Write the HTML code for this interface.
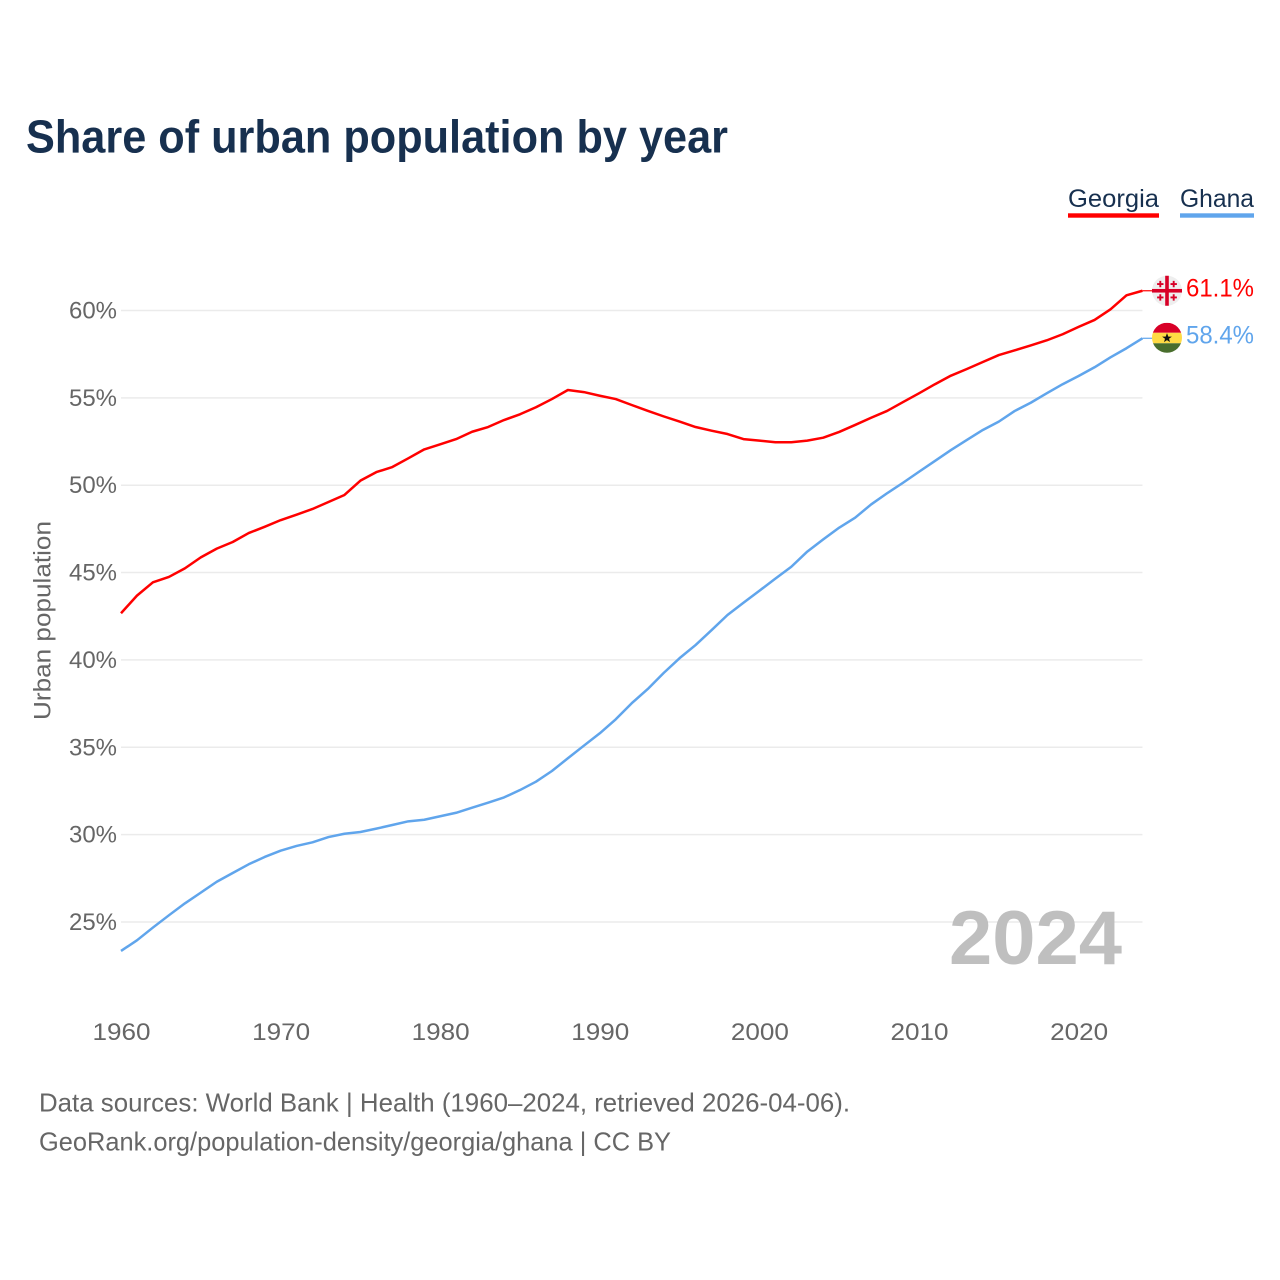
<!DOCTYPE html>
<html lang="en">
<head>
<meta charset="utf-8">
<title>Share of urban population by year</title>
<style>
html,body{margin:0;padding:0;background:#fff}
svg{display:block}
text{font-family:"Liberation Sans",sans-serif}
</style>
</head>
<body>
<svg id="chart" xmlns="http://www.w3.org/2000/svg" width="1280" height="1280" viewBox="0 0 1280 1280">
  <rect x="0" y="0" width="1280" height="1280" fill="#ffffff"/>
  <text x="26" y="152.5" font-size="46" font-weight="700" fill="#17304f" textLength="702" lengthAdjust="spacingAndGlyphs">Share of urban population by year</text>

  <g>
    <text x="1068" y="207" font-size="25" fill="#17304f" textLength="91" lengthAdjust="spacingAndGlyphs">Georgia</text>
    <rect x="1068" y="213.3" width="91" height="4.4" fill="#ff0000"/>
  </g>
  <g>
    <text x="1180" y="207" font-size="25" fill="#17304f" textLength="74" lengthAdjust="spacingAndGlyphs">Ghana</text>
    <rect x="1180" y="213.3" width="74" height="4.4" fill="#60a5ec"/>
  </g>

  <g id="grid"></g>
  <g id="yaxis"></g>
  <g id="xaxis"></g>

  <text transform="translate(50.5,720) rotate(-90)" x="0" y="0" font-size="24" fill="#666666" textLength="199" lengthAdjust="spacingAndGlyphs">Urban population</text>

  <text x="949" y="964" font-size="76" font-weight="700" fill="#bfbfbf" textLength="173" lengthAdjust="spacingAndGlyphs">2024</text>

  <g id="series"></g>

  <g id="flag-georgia">
    <circle cx="0" cy="0" r="15" fill="#eeeeee"/>
    <rect x="-1.8" y="-15" width="3.6" height="30" fill="#d80027"/>
    <rect x="-15" y="-1.8" width="30" height="3.6" fill="#d80027"/>
    <path d="M-6.7 -9.9v6.4M-9.9 -6.7h6.4M6.7 -9.9v6.4M3.5 -6.7h6.4M-6.7 3.5v6.4M-9.9 6.7h6.4M6.7 3.5v6.4M3.5 6.7h6.4" stroke="#d80027" stroke-width="1.9" fill="none"/>
  </g>
  <g id="flag-ghana">
    <clipPath id="ghana-clip"><circle cx="0" cy="0" r="15"/></clipPath>
    <g clip-path="url(#ghana-clip)">
      <rect x="-15" y="-15" width="30" height="10" fill="#d80027"/>
      <rect x="-15" y="-5" width="30" height="10.5" fill="#ffda44"/>
      <rect x="-15" y="5.5" width="30" height="10" fill="#496e2d"/>
      <path d="M0 -4.6L1.3 -1.2L4.9 -1.2L2 1L3 4.4L0 2.4L-3 4.4L-2 1L-4.9 -1.2L-1.3 -1.2Z" fill="#111111"/>
    </g>
  </g>

  <g>
    <text x="39" y="1111.5" font-size="26" fill="#666666" textLength="811" lengthAdjust="spacingAndGlyphs">Data sources: World Bank | Health (1960–2024, retrieved 2026-04-06).</text>
    <text x="39" y="1150.5" font-size="26" fill="#666666" textLength="632" lengthAdjust="spacingAndGlyphs">GeoRank.org/population-density/georgia/ghana | CC BY</text>
  </g>
</svg>
<script>
const years = [1960,1961,1962,1963,1964,1965,1966,1967,1968,1969,1970,1971,1972,1973,1974,1975,1976,1977,1978,1979,1980,1981,1982,1983,1984,1985,1986,1987,1988,1989,1990,1991,1992,1993,1994,1995,1996,1997,1998,1999,2000,2001,2002,2003,2004,2005,2006,2007,2008,2009,2010,2011,2012,2013,2014,2015,2016,2017,2018,2019,2020,2021,2022,2023,2024];
const georgiaValues = [42.67,43.68,44.44,44.75,45.24,45.87,46.37,46.75,47.26,47.62,48.0,48.31,48.64,49.04,49.44,50.26,50.75,51.04,51.54,52.05,52.34,52.64,53.06,53.33,53.73,54.06,54.46,54.93,55.45,55.33,55.12,54.93,54.59,54.26,53.94,53.64,53.33,53.12,52.93,52.64,52.55,52.46,52.46,52.55,52.72,53.05,53.45,53.86,54.25,54.76,55.26,55.78,56.27,56.65,57.05,57.45,57.72,58.0,58.29,58.64,59.06,59.46,60.07,60.87,61.13];
const ghanaValues = [23.34,23.95,24.68,25.38,26.06,26.68,27.3,27.8,28.3,28.72,29.08,29.35,29.56,29.86,30.05,30.15,30.34,30.55,30.76,30.85,31.05,31.25,31.54,31.83,32.13,32.55,33.03,33.64,34.37,35.09,35.8,36.6,37.52,38.33,39.25,40.1,40.85,41.7,42.57,43.27,43.96,44.65,45.33,46.2,46.9,47.57,48.14,48.9,49.54,50.14,50.77,51.39,52.01,52.59,53.16,53.64,54.25,54.72,55.26,55.78,56.25,56.75,57.32,57.84,58.41];
const yTickValues = [25,30,35,40,45,50,55,60];
const xTickValues = [1960,1970,1980,1990,2000,2010,2020];

const NS = 'http://www.w3.org/2000/svg';
const xScale = function (year) { return 121 + (year - 1960) * 15.96; };
const yScale = function (value) { return 310.5 + (60 - value) * 17.47; };

const gridGroup = document.getElementById('grid');
const yAxisGroup = document.getElementById('yaxis');
const xAxisGroup = document.getElementById('xaxis');
const seriesGroup = document.getElementById('series');
const rightEdge = xScale(years[years.length - 1]);

yTickValues.forEach(function (tick) {
  const line = document.createElementNS(NS, 'line');
  
  
  line.setAttribute('x1', xScale(1960));
  line.setAttribute('x2', rightEdge);
  line.setAttribute('y1', yScale(tick));
  line.setAttribute('y2', yScale(tick));
  line.setAttribute('stroke', '#ebebeb');
  line.setAttribute('stroke-width', '1.5');
  gridGroup.appendChild(line);

  const label = document.createElementNS(NS, 'text');
  
  
  label.setAttribute('x', 69);
  label.setAttribute('y', yScale(tick) + 8);
  label.setAttribute('font-size', '24');
  label.setAttribute('fill', '#666666');
  label.setAttribute('textLength', '48');
  label.setAttribute('lengthAdjust', 'spacingAndGlyphs');
  label.textContent = tick + '%';
  yAxisGroup.appendChild(label);
});

xTickValues.forEach(function (tick) {
  const label = document.createElementNS(NS, 'text');
  
  
  label.setAttribute('x', xScale(tick) - 28.5);
  label.setAttribute('y', 1040);
  label.setAttribute('font-size', '24');
  label.setAttribute('fill', '#666666');
  label.setAttribute('textLength', '58');
  label.setAttribute('lengthAdjust', 'spacingAndGlyphs');
  label.textContent = tick;
  xAxisGroup.appendChild(label);
});

function linePoints(values) {
  return values.map(function (value, i) {
    return xScale(years[i]).toFixed(2) + ',' + yScale(value).toFixed(2);
  }).join(' ');
}

const georgiaLine = document.createElementNS(NS, 'polyline');


georgiaLine.setAttribute('points', linePoints(georgiaValues));
georgiaLine.setAttribute('fill', 'none');
georgiaLine.setAttribute('stroke', '#ff0000');
georgiaLine.setAttribute('stroke-width', '2.5');
georgiaLine.setAttribute('stroke-linejoin', 'round');
seriesGroup.appendChild(georgiaLine);

const ghanaLine = document.createElementNS(NS, 'polyline');


ghanaLine.setAttribute('points', linePoints(ghanaValues));
ghanaLine.setAttribute('fill', 'none');
ghanaLine.setAttribute('stroke', '#60a5ec');
ghanaLine.setAttribute('stroke-width', '2.5');
ghanaLine.setAttribute('stroke-linejoin', 'round');
seriesGroup.appendChild(ghanaLine);

const georgiaEnd = yScale(georgiaValues[georgiaValues.length - 1]);
const ghanaEnd = yScale(ghanaValues[ghanaValues.length - 1]);

const georgiaConnector = document.createElementNS(NS, 'line');


georgiaConnector.setAttribute('x1', rightEdge);
georgiaConnector.setAttribute('x2', rightEdge + 10);
georgiaConnector.setAttribute('y1', georgiaEnd);
georgiaConnector.setAttribute('y2', georgiaEnd);
georgiaConnector.setAttribute('stroke', '#ff0000');
georgiaConnector.setAttribute('stroke-width', '1.2');
seriesGroup.appendChild(georgiaConnector);

const ghanaConnector = document.createElementNS(NS, 'line');


ghanaConnector.setAttribute('x1', rightEdge);
ghanaConnector.setAttribute('x2', rightEdge + 10);
ghanaConnector.setAttribute('y1', ghanaEnd);
ghanaConnector.setAttribute('y2', ghanaEnd);
ghanaConnector.setAttribute('stroke', '#60a5ec');
ghanaConnector.setAttribute('stroke-width', '1.2');
seriesGroup.appendChild(ghanaConnector);

document.getElementById('flag-georgia').setAttribute('transform', 'translate(1167,' + georgiaEnd + ')');
document.getElementById('flag-ghana').setAttribute('transform', 'translate(1167,' + (ghanaEnd - 0.5) + ')');

const georgiaValueLabel = document.createElementNS(NS, 'text');


georgiaValueLabel.setAttribute('x', 1186);
georgiaValueLabel.setAttribute('y', georgiaEnd + 5.5);
georgiaValueLabel.setAttribute('font-size', '25');
georgiaValueLabel.setAttribute('fill', '#ff0000');
georgiaValueLabel.setAttribute('textLength', '68');
georgiaValueLabel.setAttribute('lengthAdjust', 'spacingAndGlyphs');
georgiaValueLabel.textContent = georgiaValues[georgiaValues.length - 1].toFixed(1) + '%';
seriesGroup.appendChild(georgiaValueLabel);

const ghanaValueLabel = document.createElementNS(NS, 'text');


ghanaValueLabel.setAttribute('x', 1186);
ghanaValueLabel.setAttribute('y', ghanaEnd + 5);
ghanaValueLabel.setAttribute('font-size', '25');
ghanaValueLabel.setAttribute('fill', '#60a5ec');
ghanaValueLabel.setAttribute('textLength', '68');
ghanaValueLabel.setAttribute('lengthAdjust', 'spacingAndGlyphs');
ghanaValueLabel.textContent = ghanaValues[ghanaValues.length - 1].toFixed(1) + '%';
seriesGroup.appendChild(ghanaValueLabel);
</script>
</body>
</html>
